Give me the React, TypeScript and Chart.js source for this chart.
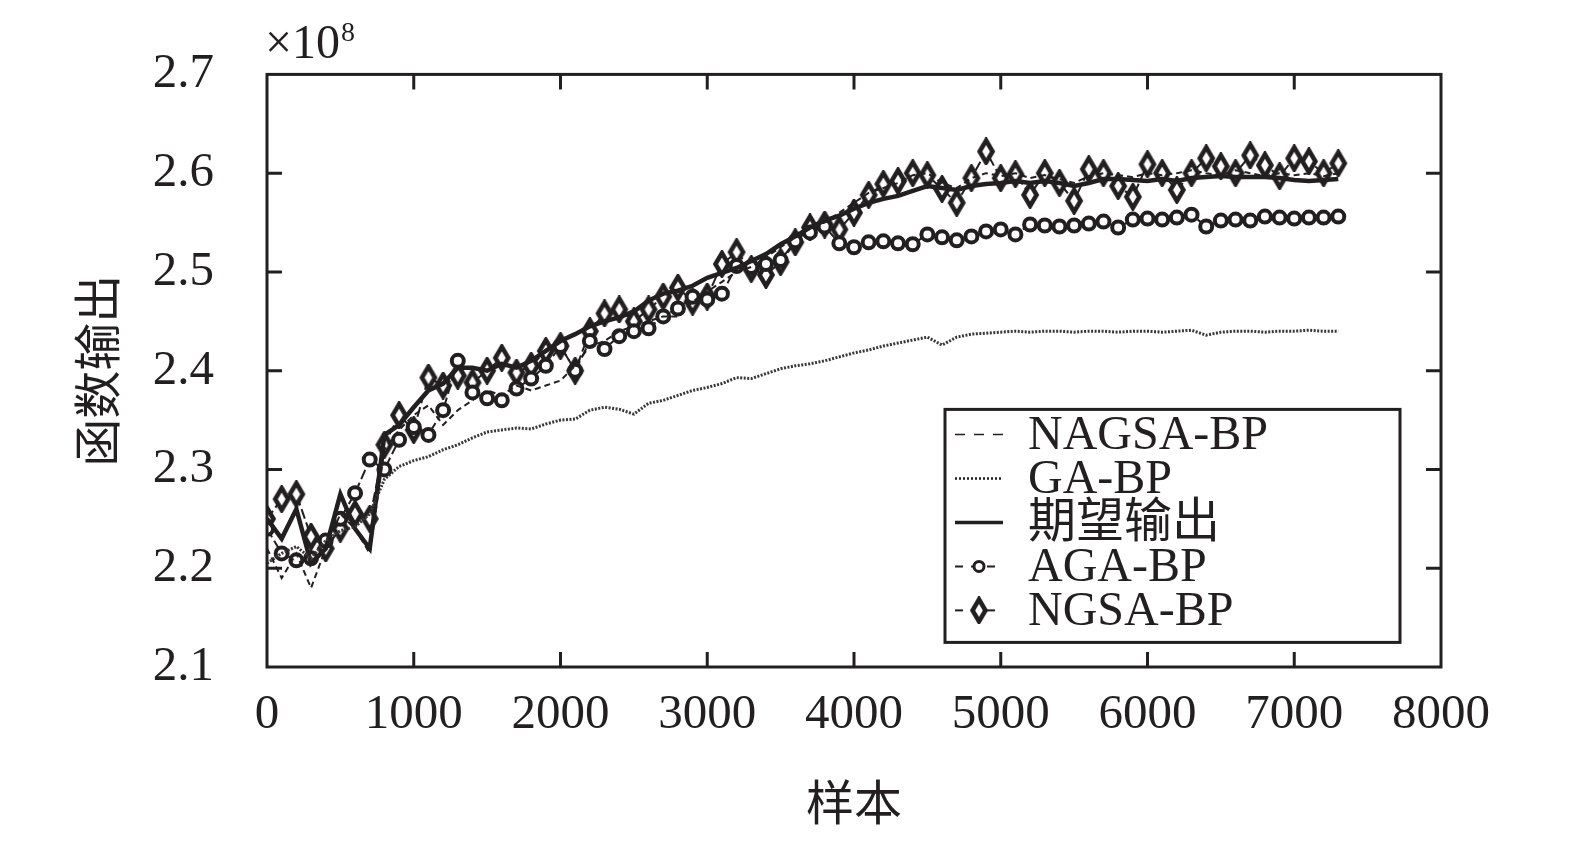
import React, { useEffect, useRef } from "react";
import { Chart, registerables } from "chart.js";

Chart.register(...registerables);

const INK = "#231f20";
const SERIF = "'Liberation Serif', 'Times New Roman', 'Noto Sans CJK SC', serif";

const SAMPLES = [
  0, 100, 200, 300, 400, 500, 600, 700, 800, 900,
  1000, 1100, 1200, 1300, 1400, 1500, 1600, 1700, 1800, 1900,
  2000, 2100, 2200, 2300, 2400, 2500, 2600, 2700, 2800, 2900,
  3000, 3100, 3200, 3300, 3400, 3500, 3600, 3700, 3800, 3900,
  4000, 4100, 4200, 4300, 4400, 4500, 4600, 4700, 4800, 4900,
  5000, 5100, 5200, 5300, 5400, 5500, 5600, 5700, 5800, 5900,
  6000, 6100, 6200, 6300, 6400, 6500, 6600, 6700, 6800, 6900,
  7000, 7100, 7200, 7300,
];

const NAGSA_BP = [
  2.22, 2.19, 2.215, 2.18, 2.22, 2.255, 2.24, 2.215, 2.32, 2.34,
  2.355, 2.365, 2.345, 2.36, 2.37, 2.38, 2.375, 2.385, 2.38, 2.385,
  2.39, 2.405, 2.425, 2.43, 2.44, 2.445, 2.45, 2.455, 2.455, 2.47,
  2.48, 2.49, 2.5, 2.505, 2.515, 2.525, 2.535, 2.545, 2.55, 2.56,
  2.57, 2.58, 2.585, 2.59, 2.598, 2.6, 2.59, 2.585, 2.595, 2.6,
  2.597, 2.6, 2.595, 2.598, 2.594, 2.59, 2.597, 2.6, 2.598, 2.596,
  2.6, 2.598, 2.6, 2.603, 2.6, 2.598, 2.603, 2.6, 2.597, 2.6,
  2.598, 2.6, 2.597, 2.6,
];

const GA_BP = [
  2.205, 2.215, 2.222, 2.21, 2.228, 2.238, 2.242, 2.255, 2.29, 2.303,
  2.309, 2.313, 2.32, 2.325, 2.332, 2.338, 2.34, 2.342, 2.341, 2.346,
  2.35, 2.351, 2.36, 2.363, 2.361, 2.356, 2.367, 2.37, 2.375, 2.38,
  2.383, 2.387, 2.393, 2.392, 2.397, 2.402, 2.405, 2.407, 2.41, 2.414,
  2.418, 2.421, 2.425, 2.428, 2.431, 2.434, 2.426, 2.434, 2.437, 2.438,
  2.439, 2.44, 2.439, 2.44, 2.44, 2.439, 2.44, 2.44, 2.439, 2.44,
  2.44, 2.439, 2.44, 2.441, 2.436, 2.439, 2.44, 2.44, 2.439, 2.44,
  2.44, 2.441, 2.44, 2.44,
];

const EXPECTED = [
  2.25, 2.23, 2.26, 2.205, 2.22, 2.275, 2.24, 2.22, 2.335, 2.345,
  2.363, 2.38, 2.387, 2.403, 2.403, 2.4, 2.407, 2.403, 2.41, 2.42,
  2.43, 2.437, 2.445, 2.45, 2.454, 2.46, 2.471, 2.478, 2.481, 2.486,
  2.494, 2.499, 2.504, 2.511, 2.518, 2.528, 2.536, 2.545, 2.552, 2.557,
  2.564, 2.57, 2.574, 2.577, 2.582, 2.587, 2.585, 2.583, 2.587, 2.589,
  2.59, 2.592, 2.59, 2.592, 2.59, 2.587, 2.59, 2.594, 2.594, 2.593,
  2.592, 2.594, 2.592, 2.595, 2.596, 2.597, 2.596, 2.596, 2.596, 2.595,
  2.593, 2.592, 2.593, 2.594,
];

const AGA_BP = [
  2.24, 2.215, 2.208, 2.21, 2.228, 2.25, 2.276, 2.31, 2.3, 2.33,
  2.343, 2.335, 2.36, 2.41, 2.378, 2.372, 2.37, 2.382, 2.392, 2.405,
  2.425, 2.4, 2.43, 2.422, 2.435, 2.44, 2.443, 2.455, 2.463, 2.475,
  2.472, 2.478, 2.506, 2.505, 2.508, 2.512, 2.531, 2.54, 2.546, 2.529,
  2.525, 2.53, 2.531, 2.529, 2.528, 2.538, 2.535, 2.532, 2.536, 2.541,
  2.543, 2.538, 2.548, 2.547, 2.546, 2.547, 2.549, 2.551, 2.545, 2.553,
  2.554, 2.553, 2.555, 2.558, 2.546, 2.552, 2.553, 2.552, 2.556, 2.555,
  2.554, 2.555, 2.555, 2.556,
];

const NGSA_BP = [
  2.25, 2.27, 2.275, 2.232, 2.22, 2.24, 2.255, 2.25, 2.325, 2.355,
  2.34, 2.393, 2.385, 2.395, 2.388, 2.4, 2.413, 2.398, 2.405, 2.42,
  2.425, 2.4, 2.44, 2.458, 2.462, 2.45, 2.462, 2.475, 2.484, 2.47,
  2.475, 2.508, 2.52, 2.503, 2.497, 2.51, 2.53, 2.545, 2.548, 2.543,
  2.56, 2.578, 2.589, 2.592, 2.6, 2.598, 2.584, 2.57, 2.595, 2.622,
  2.595, 2.599, 2.578, 2.6, 2.59, 2.572, 2.604, 2.6, 2.587, 2.576,
  2.609, 2.6, 2.583, 2.6, 2.615, 2.607, 2.6, 2.618, 2.608, 2.597,
  2.615, 2.612, 2.6, 2.61,
];

const LABELS = ["NAGSA-BP", "GA-BP", "期望输出", "AGA-BP", "NGSA-BP"];
const X_TITLE = "样本";
const Y_TITLE = "函数输出";
const Y_MIN = 2.1;
const Y_MAX = 2.7;
const Y_STEP = 0.1;
const X_MIN = 0;
const X_MAX = 8000;
const X_STEP = 1000;

function pts(values: number[]) {
  return values.map((v, i) => ({ x: SAMPLES[i], y: v }));
}

function makeDiamond(): HTMLCanvasElement {
  const c = document.createElement("canvas");
  c.width = 20;
  c.height = 28;
  const g = c.getContext("2d")!;
  g.fillStyle = "#ffffff";
  g.strokeStyle = INK;
  g.lineWidth = 4.5;
  g.lineJoin = "miter";
  g.beginPath();
  g.moveTo(10, 3);
  g.lineTo(16.5, 14);
  g.lineTo(10, 25);
  g.lineTo(3.5, 14);
  g.closePath();
  g.fill();
  g.stroke();
  return c;
}

const framePlugin = {
  id: "frameTicksLegend",
  afterDraw(chart: any) {
    const ctx = chart.ctx as CanvasRenderingContext2D;
    const a = chart.chartArea;
    const xs = chart.scales.x;
    const ys = chart.scales.y;
    ctx.save();
    ctx.strokeStyle = INK;
    ctx.lineWidth = 3;
    ctx.setLineDash([]);
    ctx.strokeRect(a.left, a.top, a.right - a.left, a.bottom - a.top);
    const TL = 15;
    ctx.beginPath();
    xs.ticks.forEach((t: any) => {
      const px = xs.getPixelForValue(t.value);
      if (px <= a.left + 1 || px >= a.right - 1) return;
      ctx.moveTo(px, a.bottom);
      ctx.lineTo(px, a.bottom - TL);
      ctx.moveTo(px, a.top);
      ctx.lineTo(px, a.top + TL);
    });
    ys.ticks.forEach((t: any) => {
      const py = ys.getPixelForValue(t.value);
      if (py <= a.top + 1 || py >= a.bottom - 1) return;
      ctx.moveTo(a.left, py);
      ctx.lineTo(a.left + TL, py);
      ctx.moveTo(a.right, py);
      ctx.lineTo(a.right - TL, py);
    });
    ctx.stroke();

    // ×10^8 multiplier
    ctx.fillStyle = INK;
    ctx.textBaseline = "alphabetic";
    ctx.textAlign = "left";
    ctx.font = `48px ${SERIF}`;
    const base = "×10";
    ctx.fillText(base, a.left - 2, a.top - 16);
    const w = ctx.measureText(base).width;
    ctx.font = `28px ${SERIF}`;
    ctx.fillText("8", a.left - 2 + w + 1, a.top - 33);

    // legend box
    const bx = a.left + 678;
    const by = a.top + 335;
    const bw = 455;
    const bh = 233;
    ctx.fillStyle = "#ffffff";
    ctx.fillRect(bx, by, bw, bh);
    ctx.lineWidth = 3;
    ctx.strokeStyle = INK;
    ctx.strokeRect(bx, by, bw, bh);
    chart.data.datasets.forEach((ds: any, i: number) => {
      const y = by + 25 + i * 44;
      ctx.save();
      ctx.strokeStyle = INK;
      ctx.lineWidth = ds.legendWidth;
      ctx.setLineDash(ds.legendDash);
      ctx.beginPath();
      ctx.moveTo(bx + 10, y);
      ctx.lineTo(bx + 58, y);
      ctx.stroke();
      ctx.setLineDash([]);
      if (ds.pointStyle === "circle" && ds.pointRadius > 0) {
        ctx.fillStyle = "#fff";
        ctx.lineWidth = 3;
        ctx.beginPath();
        ctx.arc(bx + 34, y, 5, 0, Math.PI * 2);
        ctx.fill();
        ctx.stroke();
      } else if (ds.pointStyle instanceof HTMLCanvasElement) {
        const img = ds.pointStyle as HTMLCanvasElement;
        ctx.drawImage(img, bx + 34 - img.width / 2, y - img.height / 2);
      }
      ctx.fillStyle = INK;
      ctx.font = `48px ${SERIF}`;
      ctx.textBaseline = "middle";
      ctx.textAlign = "left";
      ctx.fillText(ds.label, bx + 83, y + 2);
      ctx.restore();
    });
    ctx.restore();
  },
};

export default function App() {
  const ref = useRef<HTMLCanvasElement | null>(null);
  useEffect(() => {
    if (!ref.current) return;
    const diamond = makeDiamond();
    const chart = new Chart(ref.current, {
      type: "line",
      data: {
        datasets: [
          {
            label: LABELS[0],
            data: pts(NAGSA_BP),
            borderColor: INK,
            borderWidth: 2,
            borderDash: [6, 4],
            pointRadius: 0,
            tension: 0,
            legendDash: [10, 9],
            legendWidth: 1.5,
          } as any,
          {
            label: LABELS[1],
            data: pts(GA_BP),
            borderColor: "#3a3637",
            borderWidth: 3,
            borderDash: [2, 1.5],
            pointRadius: 0,
            tension: 0,
            legendDash: [2, 2],
            legendWidth: 2.5,
          } as any,
          {
            label: LABELS[2],
            data: pts(EXPECTED),
            borderColor: INK,
            borderWidth: 4.5,
            pointRadius: 0,
            tension: 0,
            legendDash: [],
            legendWidth: 3.5,
          } as any,
          {
            label: LABELS[3],
            data: pts(AGA_BP),
            borderColor: INK,
            borderWidth: 2,
            borderDash: [10, 4],
            pointStyle: "circle",
            pointRadius: 6,
            pointBorderWidth: 4,
            pointBackgroundColor: "#ffffff",
            pointBorderColor: INK,
            tension: 0,
            legendDash: [8, 8],
            legendWidth: 2,
          } as any,
          {
            label: LABELS[4],
            data: pts(NGSA_BP),
            borderColor: INK,
            borderWidth: 2,
            borderDash: [10, 4],
            pointStyle: diamond,
            pointRadius: 9,
            tension: 0,
            legendDash: [8, 8],
            legendWidth: 2,
          } as any,
        ],
      },
      options: {
        animation: false,
        responsive: true,
        maintainAspectRatio: false,
        layout: { padding: { top: 73, right: 134, left: 0, bottom: 0 } },
        plugins: {
          legend: { display: false },
          tooltip: { enabled: false },
        },
        scales: {
          x: {
            type: "linear",
            min: X_MIN,
            max: X_MAX,
            grid: { display: false },
            border: { display: false },
            ticks: {
              stepSize: X_STEP,
              color: INK,
              padding: 11,
              maxRotation: 0,
              font: { family: SERIF, size: 49 },
              callback: (v: any) => String(v),
            },
            title: {
              display: true,
              text: X_TITLE,
              color: INK,
              padding: { top: 0, bottom: 13 },
              font: { family: SERIF, size: 48 },
            },
            afterFit(scale: any) {
              scale.height = 182;
            },
          },
          y: {
            type: "linear",
            min: Y_MIN,
            max: Y_MAX,
            grid: { display: false },
            border: { display: false },
            ticks: {
              stepSize: Y_STEP,
              color: INK,
              padding: 45,
              font: { family: SERIF, size: 49 },
              callback: (v: any) => Number(v).toFixed(1),
            },
            title: {
              display: true,
              text: Y_TITLE,
              color: INK,
              padding: { top: 74, bottom: 0 },
              font: { family: SERIF, size: 48 },
            },
            afterFit(scale: any) {
              scale.width = 267;
            },
          },
        },
      },
      plugins: [framePlugin],
    });
    return () => chart.destroy();
  }, []);
  return (
    <div
      style={{
        position: "fixed",
        left: 0,
        top: 0,
        width: "100vw",
        height: "100vh",
        overflow: "hidden",
        background: "#fff",
      }}
    >
      <canvas ref={ref} style={{ display: "block" }} />
    </div>
  );
}
